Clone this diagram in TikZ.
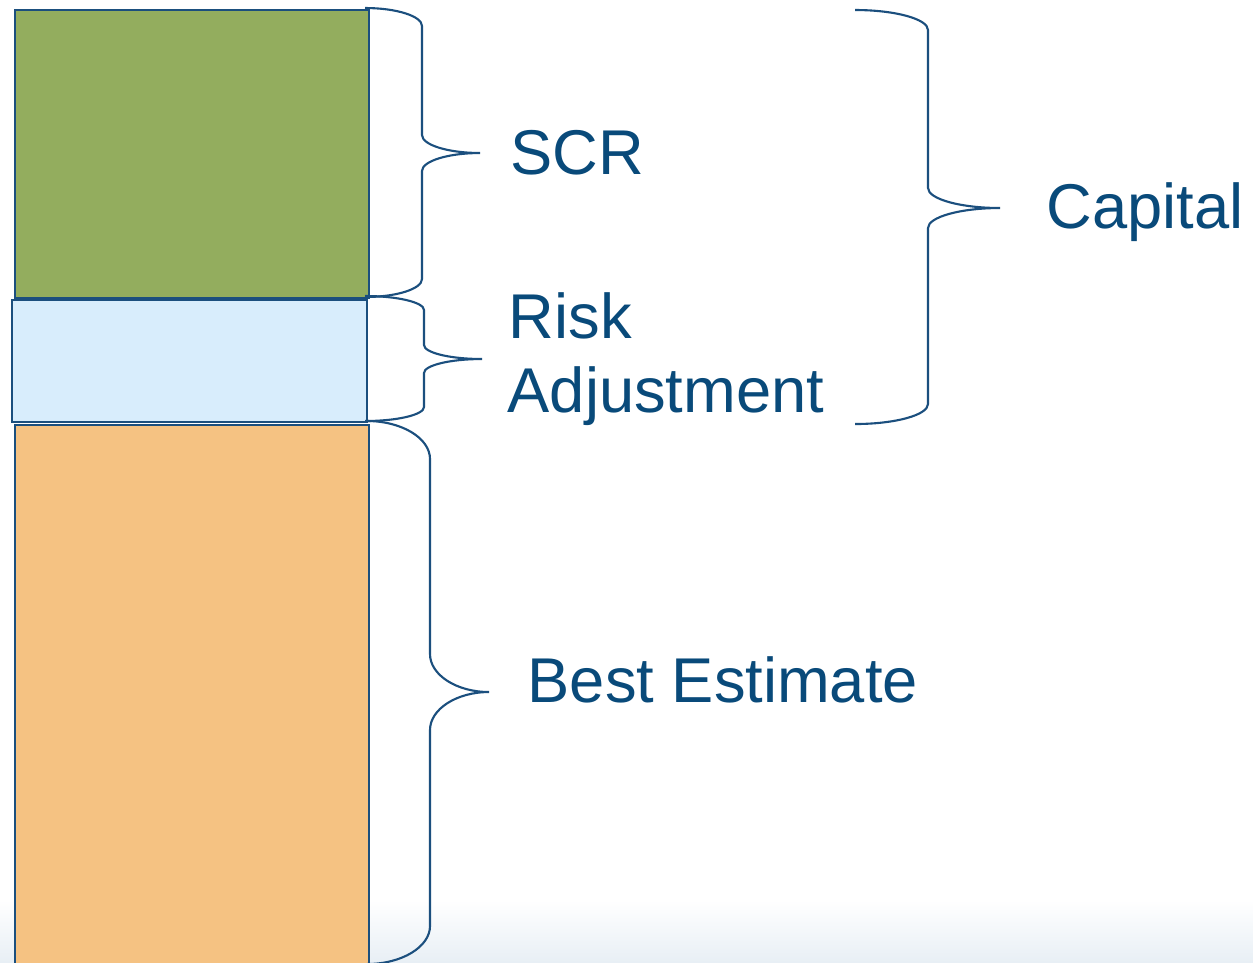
\documentclass[tikz,border=0pt]{standalone}
\usepackage{fontspec}
\setmainfont{Liberation Sans}
\usepackage{xcolor}
\usepackage{tikz}

\definecolor{scrgreen}{HTML}{93AD5E}
\definecolor{rablue}{HTML}{D8EDFC}
\definecolor{beorange}{HTML}{F5C282}
\definecolor{edgeblue}{HTML}{1B4F7E}
\definecolor{labelblue}{HTML}{094A7A}
\definecolor{floorhaze}{HTML}{E8EFF5}

\tikzset{
  block/.style={draw=edgeblue, line width=0.8pt},
  curly/.style={draw=edgeblue, line width=0.6pt},
  label/.style={text=labelblue, inner sep=0pt, anchor=base west,
    font=\fontsize{18}{21}\selectfont}
}

\begin{document}
\begin{tikzpicture}[x=0.1mm, y=-0.1mm]
      \clip (0,0) rectangle (1253,962);
      \fill[white] (0,0) rectangle (1253,962);
      \shade[top color=white, bottom color=floorhaze] (0,900) rectangle (1253,962);

      % the three stacked layers
      \fill[block, fill=scrgreen]  (15,10)  rectangle (369,298);
      \fill[block, fill=rablue]    (12,300) rectangle (367,422);
      \fill[block, fill=beorange]  (15,425) rectangle (369,980);

      % braces: start x / spine x / tip x / top / tip y / bottom / curl
      \foreach \xa/\xb/\xc/\ya/\ym/\yb/\c in {365/422/480/8/153/297/18,
                                             365/424/482/296/359/421/14,
                                             855/928/1000/10/208/424/20,
                                             367/430/489/421/692/964/38}{
        \draw[curly] (\xa,\ya)
          .. controls ({\xa+0.55*(\xb-\xa)},\ya) and (\xb,{\ya+0.45*\c}) .. (\xb,\ya+\c)
          -- (\xb,\ym-\c)
          .. controls (\xb,{\ym-0.45*\c}) and ({\xc-0.55*(\xc-\xb)},\ym) .. (\xc,\ym)
          .. controls ({\xc-0.55*(\xc-\xb)},\ym) and (\xb,{\ym+0.45*\c}) .. (\xb,\ym+\c)
          -- (\xb,\yb-\c)
          .. controls (\xb,{\yb-0.45*\c}) and ({\xa+0.55*(\xb-\xa)},\yb) .. (\xa,\yb);
      }

      \node[label] (scr)     at (510,174)  {SCR};
      \node[label] (risk)    at (508,338)  {Risk};
      \node[label] (adjust)  at (507,412)  {Adjustment};
      \node[label] (capital) at (1046,228) {Capital};
      \node[label] (best)    at (527,702)  {Best Estimate};
\end{tikzpicture}
\end{document}
